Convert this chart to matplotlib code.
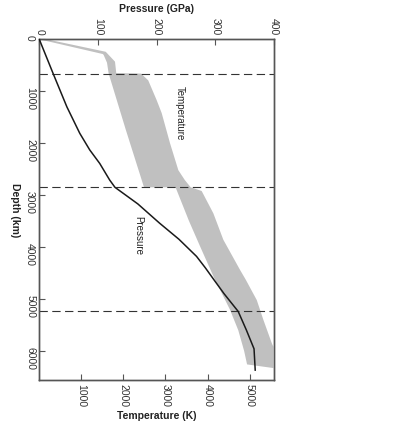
import matplotlib
matplotlib.use("Agg")
import matplotlib.pyplot as plt
import numpy as np

plt.rcParams['font.family'] = ['Liberation Sans', 'DejaVu Sans']

# temperature band (cool / hot edge), depth in km, T in K
cool_depth = [0, 283, 300, 450, 660, 1750, 2850, 2850, 3500, 4000, 4600, 5200, 5600, 6000, 6260]
cool_temp = [0, 1508, 1530, 1610, 1650, 2060, 2490, 3240, 3560, 3830, 4160, 4530, 4730, 4870, 4940]
hot_depth = [0, 240, 430, 650, 660, 790, 1170, 1420, 2000, 2520, 2710, 2850, 2920, 3350, 3860,
             4440, 4630, 5020, 5210, 5400, 5850, 5920, 6330]
hot_temp = [180, 1580, 1800, 1830, 2420, 2590, 2790, 2910, 3108, 3306, 3460, 3600, 3860, 4138, 4376,
            4773, 4910, 5170, 5249, 5327, 5527, 5565, 5565]

# pressure profile (GPa)
p_depth = [0, 670, 1300, 1810, 2130, 2390, 2710, 2850, 3170, 3540, 3850, 4180, 4400, 4620,
           4900, 5240, 5600, 5960, 6370]
p_gpa = [0, 24, 47, 69, 86, 103, 120, 129, 168, 205, 238, 268, 283, 297,
         315, 339, 353, 366, 368]

# discontinuities
boundaries = [660, 2850, 5240]

depth_ticks = [0, 1000, 2000, 3000, 4000, 5000, 6000]
temp_ticks = [1000, 2000, 3000, 4000, 5000]
p_ticks = [0, 100, 200, 300, 400]

fig = plt.figure(figsize=(3.94, 4.26), dpi=100)
ax = fig.add_axes([0.0997, 0.108, 0.5957, 0.7997])

band_x = np.concatenate([cool_temp, hot_temp[::-1]])
band_y = np.concatenate([cool_depth, hot_depth[::-1]])
ax.fill(band_x, band_y, color='#c0c0c0', lw=0, zorder=1)

for b in boundaries:
    ax.axhline(b, color='#333333', lw=0.8, ls=(0, (7.5, 4)), zorder=2)

ax.set_xlim(0, 5580)
ax.set_ylim(6560, 0)

ax2 = ax.twiny()
ax2.plot(p_gpa, p_depth, color='#1a1a1a', lw=1.1, zorder=3)
ax2.set_xlim(0, 400)
ax2.set_ylim(6560, 0)

fs = 7.5
ax.set_xticks(temp_ticks)
ax.set_yticks(depth_ticks)
ax2.set_xticks(p_ticks)
for a in (ax, ax2):
    for s in a.spines.values():
        s.set_color('#555555')
        s.set_linewidth(1.0)
    a.tick_params(direction='in', length=4, width=0.8, color='#555555',
                  labelsize=fs, labelcolor='#333333', labelrotation=270, pad=3)
ax.tick_params(axis='y', right=False)
ax.tick_params(axis='x', top=False)

ax.set_xlabel('Temperature (K)', fontsize=7.5, fontweight='bold', color='#222222', labelpad=3)
ax2.set_xlabel('Pressure (GPa)', fontsize=7.5, fontweight='bold', color='#222222', labelpad=4)
ax.set_ylabel('Depth (km)', fontsize=7.5, fontweight='bold', color='#222222', rotation=270,
              va='center', labelpad=6)
ax.yaxis.set_label_coords(-0.105, 0.5)

ax.text(3346, 1425, 'Temperature', rotation=270, ha='center', va='center',
        fontsize=7, color='#222222', zorder=4)
ax.text(2354, 3786, 'Pressure', rotation=270, ha='center', va='center',
        fontsize=7, color='#222222', zorder=4)

fig.savefig('out.png', dpi=100)
